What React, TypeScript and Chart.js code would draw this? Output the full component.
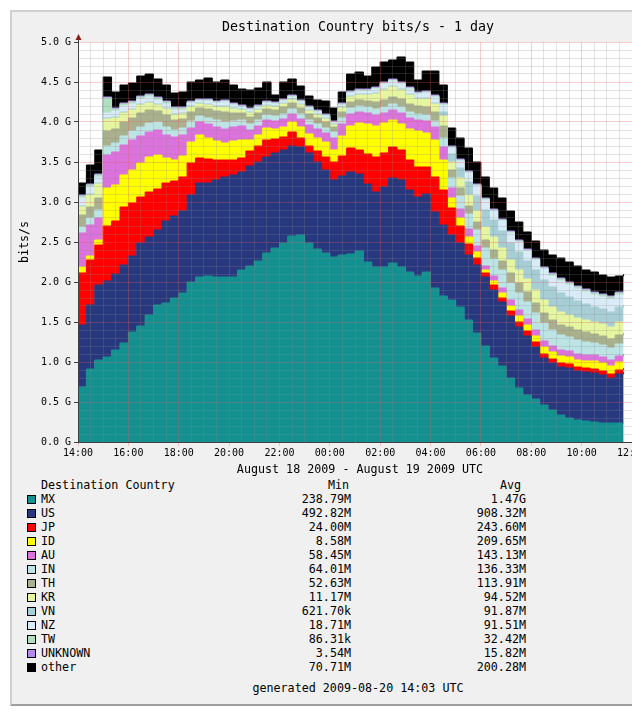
import React, { useEffect, useRef } from "react";
import { Chart, registerables } from "chart.js";

Chart.register(...registerables);

// Minutes after 14:00 (Aug 18) for each sample
const MINUTES = [
  0, 20, 40, 60, 80, 100, 120, 140, 160, 180,
  200, 220, 240, 260, 280, 300, 320, 340, 360, 380,
  400, 420, 440, 460, 480, 500, 520, 540, 560, 580,
  600, 620, 640, 660, 680, 700, 720, 740, 760, 780,
  800, 820, 840, 860, 880, 900, 920, 940, 960, 980,
  1000, 1020, 1040, 1060, 1080, 1100, 1120, 1140, 1160, 1180,
  1200, 1220, 1240, 1260, 1280, 1300,
];

// Values in Mbit/s
const MX = [
  687.5, 912.5, 1025, 1062.5, 1150, 1237.5, 1375, 1450, 1587.5, 1712.5,
  1737.5, 1800, 1862.5, 2000, 2062.5, 2075, 2062.5, 2062.5, 2062.5, 2150,
  2200, 2262.5, 2362.5, 2425, 2487.5, 2575, 2587.5, 2487.5, 2412.5, 2362.5,
  2312.5, 2337.5, 2350, 2387.5, 2250, 2187.5, 2187.5, 2237.5, 2187.5, 2125,
  2075, 2125, 1925, 1825, 1775, 1687.5, 1525, 1362.5, 1200, 1050,
  950, 800, 675, 587.5, 537.5, 462.5, 400, 337.5, 300, 275,
  262.5, 250, 237.5, 237.5, 237.5, 237.5,
];
const US = [
  775, 800, 937.5, 950, 950, 975, 950, 1037.5, 975, 937.5,
  1025, 1025, 1025, 1087.5, 1175, 1162.5, 1212.5, 1250, 1275, 1225,
  1250, 1237.5, 1200, 1187.5, 1162.5, 1125, 1100, 1125, 1087.5, 1037.5,
  962.5, 987.5, 1025, 962.5, 975, 937.5, 1000, 1062.5, 1087.5, 1025,
  987.5, 975, 950, 887.5, 812.5, 800, 812.5, 850, 862.5, 850,
  800, 775, 762.5, 737.5, 650, 587.5, 587.5, 600, 625, 612.5,
  612.5, 612.5, 600, 562.5, 612.5, 637.5,
];
const JP = [
  650, 562.5, 500, 687.5, 662.5, 725, 662.5, 575, 562.5, 512.5,
  475, 437.5, 425, 400, 312.5, 300, 250, 212.5, 187.5, 175,
  187.5, 200, 212.5, 175, 162.5, 175, 112.5, 87.5, 137.5, 162.5,
  225, 250, 300, 300, 375, 437.5, 425, 387.5, 375, 375,
  375, 337.5, 437.5, 437.5, 337.5, 212.5, 137.5, 87.5, 50, 62.5,
  50, 62.5, 62.5, 62.5, 62.5, 50, 50, 50, 50, 50,
  50, 50, 50, 50, 50, 50,
];
const ID = [
  75, 50, 62.5, 475, 450, 400, 412.5, 425, 437.5, 425,
  312.5, 262.5, 262.5, 262.5, 287.5, 262.5, 237.5, 212.5, 237.5, 225,
  137.5, 137.5, 150, 125, 125, 125, 137.5, 150, 162.5, 187.5,
  150, 250, 275, 337.5, 375, 387.5, 375, 337.5, 325, 387.5,
  450, 425, 462.5, 375, 125, 100, 87.5, 75, 37.5, 50,
  62.5, 62.5, 75, 75, 75, 87.5, 87.5, 87.5, 87.5, 87.5,
  87.5, 100, 100, 100, 100, 100,
];
const AU = [
  425, 387.5, 275, 412.5, 412.5, 375, 375, 337.5, 312.5, 312.5,
  287.5, 287.5, 262.5, 175, 162.5, 175, 175, 175, 175, 175,
  125, 112.5, 100, 100, 100, 100, 100, 112.5, 112.5, 112.5,
  150, 150, 150, 137.5, 137.5, 137.5, 125, 125, 137.5, 137.5,
  137.5, 150, 162.5, 162.5, 125, 112.5, 100, 75, 50, 62.5,
  62.5, 75, 75, 75, 75, 75, 75, 75, 75, 75,
  75, 75, 75, 75, 75, 75,
];
const IN = [
  75, 87.5, 100, 112.5, 112.5, 112.5, 112.5, 112.5, 112.5, 100,
  100, 87.5, 87.5, 87.5, 75, 75, 87.5, 87.5, 75, 75,
  75, 75, 62.5, 62.5, 62.5, 62.5, 62.5, 62.5, 62.5, 62.5,
  75, 75, 75, 75, 75, 75, 75, 75, 75, 75,
  75, 75, 75, 112.5, 125, 162.5, 187.5, 200, 225, 212.5,
  225, 212.5, 212.5, 212.5, 212.5, 225, 200, 187.5, 175, 175,
  162.5, 150, 150, 150, 150, 150,
];
const TH = [
  150, 137.5, 150, 187.5, 175, 175, 162.5, 175, 162.5, 137.5,
  150, 125, 112.5, 112.5, 100, 112.5, 112.5, 125, 100, 87.5,
  87.5, 87.5, 75, 75, 87.5, 75, 75, 75, 75, 75,
  62.5, 75, 75, 75, 75, 87.5, 87.5, 87.5, 100, 100,
  100, 100, 112.5, 150, 100, 100, 100, 100, 100, 112.5,
  112.5, 125, 125, 125, 125, 125, 125, 125, 125, 125,
  125, 112.5, 112.5, 112.5, 112.5, 112.5,
];
const KR = [
  100, 150, 175, 150, 137.5, 112.5, 100, 100, 87.5, 75,
  75, 62.5, 62.5, 62.5, 50, 50, 50, 62.5, 50, 37.5,
  50, 37.5, 37.5, 37.5, 37.5, 37.5, 37.5, 37.5, 37.5, 37.5,
  25, 50, 62.5, 62.5, 75, 100, 125, 125, 112.5, 112.5,
  87.5, 100, 100, 125, 100, 125, 137.5, 137.5, 162.5, 162.5,
  162.5, 162.5, 162.5, 162.5, 162.5, 162.5, 162.5, 162.5, 150, 150,
  150, 150, 150, 150, 162.5, 162.5,
];
const VN = [
  12.5, 12.5, 12.5, 12.5, 12.5, 12.5, 12.5, 12.5, 12.5, 12.5,
  12.5, 12.5, 12.5, 12.5, 12.5, 12.5, 12.5, 12.5, 12.5, 12.5,
  12.5, 12.5, 12.5, 12.5, 12.5, 12.5, 12.5, 12.5, 12.5, 12.5,
  12.5, 12.5, 12.5, 12.5, 12.5, 12.5, 12.5, 12.5, 12.5, 12.5,
  12.5, 12.5, 12.5, 50, 100, 125, 162.5, 187.5, 212.5, 212.5,
  212.5, 212.5, 225, 225, 250, 250, 250, 237.5, 225, 212.5,
  200, 187.5, 187.5, 187.5, 187.5, 187.5,
];
const NZ = [
  100, 87.5, 75, 62.5, 75, 75, 62.5, 62.5, 62.5, 50,
  50, 50, 37.5, 37.5, 25, 37.5, 37.5, 50, 37.5, 25,
  25, 25, 25, 25, 25, 25, 25, 25, 25, 25,
  12.5, 25, 37.5, 37.5, 37.5, 50, 62.5, 62.5, 62.5, 62.5,
  50, 62.5, 75, 87.5, 75, 87.5, 112.5, 125, 125, 112.5,
  125, 125, 125, 125, 125, 137.5, 137.5, 150, 150, 150,
  150, 150, 150, 162.5, 150, 150,
];
const TW = [
  25, 25, 25, 187.5, 25, 25, 25, 25, 25, 25,
  25, 25, 25, 12.5, 12.5, 12.5, 12.5, 12.5, 12.5, 12.5,
  12.5, 12.5, 12.5, 12.5, 12.5, 12.5, 12.5, 12.5, 12.5, 12.5,
  12.5, 12.5, 12.5, 12.5, 12.5, 12.5, 12.5, 12.5, 12.5, 12.5,
  12.5, 12.5, 12.5, 12.5, 12.5, 12.5, 12.5, 12.5, 12.5, 12.5,
  12.5, 12.5, 12.5, 12.5, 12.5, 12.5, 25, 25, 25, 25,
  25, 25, 25, 25, 25, 25,
];
const UNKNOWN = [
  12.5, 12.5, 12.5, 12.5, 12.5, 12.5, 12.5, 12.5, 12.5, 12.5,
  12.5, 12.5, 12.5, 12.5, 12.5, 12.5, 12.5, 12.5, 12.5, 12.5,
  12.5, 12.5, 12.5, 12.5, 12.5, 12.5, 12.5, 12.5, 12.5, 12.5,
  12.5, 12.5, 12.5, 12.5, 12.5, 12.5, 12.5, 12.5, 12.5, 12.5,
  12.5, 12.5, 12.5, 12.5, 12.5, 12.5, 12.5, 12.5, 12.5, 12.5,
  12.5, 12.5, 12.5, 12.5, 12.5, 12.5, 12.5, 12.5, 12.5, 12.5,
  12.5, 12.5, 12.5, 12.5, 12.5, 12.5,
];
const OTHER = [
  150, 237.5, 300, 250, 200, 225, 225, 250, 250, 225,
  200, 175, 187.5, 237.5, 237.5, 262.5, 237.5, 250, 225, 200,
  225, 212.5, 237.5, 87.5, 212.5, 200, 175, 125, 125, 162.5,
  162.5, 137.5, 212.5, 212.5, 162.5, 250, 250, 237.5, 312.5, 312.5,
  150, 250, 300, 225, 225, 262.5, 287.5, 275, 262.5, 262.5,
  262.5, 250, 225, 212.5, 212.5, 212.5, 225, 250, 250, 250,
  237.5, 250, 237.5, 237.5, 200, 200,
];

const SERIES_NAMES = ["MX", "US", "JP", "ID", "AU", "IN", "TH", "KR", "VN", "NZ", "TW", "UNKNOWN", "other"];
const SERIES_COLORS = [
  "#139090", "#28387F", "#FF0000", "#FFFF00", "#DC72DC", "#BCE4E4", "#A9B08E",
  "#E6F5A0", "#A6CED4", "#D8EBF7", "#B0E0C0", "#B38BEF", "#000000",
];
const MIN_LABELS = ["238.79M", "492.82M", "24.00M", "8.58M", "58.45M", "64.01M", "52.63M", "11.17M", "621.70k", "18.71M", "86.31k", "3.54M", "70.71M"];
const AVG_LABELS = ["1.47G", "908.32M", "243.60M", "209.65M", "143.13M", "136.33M", "113.91M", "94.52M", "91.87M", "91.51M", "32.42M", "15.82M", "200.28M"];

const TITLE = "Destination Country bits/s - 1 day";
const X_CAPTION = "August 18 2009 - August 19 2009 UTC";
const LEGEND_HEAD = ["Destination Country", "Min", "Avg"];
const GENERATED = "generated 2009-08-20 14:03 UTC";
const Y_TITLE = "bits/s";

const X_MAX = 1320; // 12:00 next day
const Y_MAX = 5000;

const FONT = "'DejaVu Sans Mono', monospace";
const MINOR_GRID = "rgba(140,140,140,0.24)";
const MAJOR_GRID = "rgba(230,90,90,0.30)";

const plotDecor = {
  id: "plotDecor",
  beforeDraw(chart: any) {
    const { ctx, chartArea } = chart;
    ctx.save();
    ctx.fillStyle = "#ffffff";
    ctx.fillRect(chartArea.left, chartArea.top, chartArea.right - chartArea.left, chartArea.bottom - chartArea.top);
    ctx.restore();
  },
  afterDraw(chart: any) {
    const { ctx, chartArea } = chart;
    const x = chartArea.left + 0.5;
    ctx.save();
    ctx.strokeStyle = "#404040";
    ctx.lineWidth = 1;
    ctx.beginPath();
    ctx.moveTo(x, chartArea.top);
    ctx.lineTo(x, chartArea.top - 4);
    ctx.stroke();
    ctx.fillStyle = "#8a1c1c";
    ctx.beginPath();
    ctx.moveTo(x, chartArea.top - 8);
    ctx.lineTo(x - 3, chartArea.top - 2);
    ctx.lineTo(x + 3, chartArea.top - 2);
    ctx.closePath();
    ctx.fill();
    ctx.restore();
  },
};

export default function App() {
  const canvasRef = useRef<HTMLCanvasElement | null>(null);

  useEffect(() => {
    const SERIES = [MX, US, JP, ID, AU, IN, TH, KR, VN, NZ, TW, UNKNOWN, OTHER];
    const chart = new Chart(canvasRef.current as HTMLCanvasElement, {
      type: "line",
      data: {
        datasets: SERIES.map((vals, i) => ({
          label: SERIES_NAMES[i],
          data: vals.map((v, k) => ({ x: MINUTES[k], y: v })),
          backgroundColor: SERIES_COLORS[i],
          borderColor: SERIES_COLORS[i],
          borderWidth: 1,
          pointRadius: 0,
          pointHoverRadius: 0,
          fill: i === 0 ? "origin" : "-1",
          stepped: true,
        })),
      },
      options: {
        animation: false,
        responsive: false,
        maintainAspectRatio: false,
        devicePixelRatio: 1,
        events: [],
        layout: { padding: { left: 0, top: 42, right: 88, bottom: 8 } },
        plugins: {
          legend: { display: false },
          tooltip: { enabled: false },
          title: { display: false },
        },
        scales: {
          x: {
            type: "linear",
            min: 0,
            max: X_MAX,
            afterFit: (s: any) => {
              s.height = 20;
            },
            ticks: {
              stepSize: 30,
              autoSkip: false,
              maxRotation: 0,
              minRotation: 0,
              padding: 1,
              color: "#000",
              font: { family: FONT, size: 10 },
              callback: (v: any) => {
                const n = Number(v);
                if (n % 120 !== 0) return "";
                const h = (14 + n / 60) % 24;
                return String(h).padStart(2, "0") + ":00";
              },
            },
            grid: {
              z: 1,
              lineWidth: 1,
              tickLength: 4,
              color: (c: any) => (c.tick && Math.round(c.tick.value) % 120 === 0 ? MAJOR_GRID : MINOR_GRID),
              tickColor: (c: any) => (c.tick && Math.round(c.tick.value) % 120 === 0 ? MAJOR_GRID : "rgba(0,0,0,0)"),
            },
            border: { display: true, color: "#404040", width: 1, z: 2 },
          },
          y: {
            type: "linear",
            stacked: true,
            min: 0,
            max: Y_MAX,
            afterFit: (s: any) => {
              s.width = 78;
            },
            ticks: {
              stepSize: 100,
              autoSkip: false,
              padding: 3,
              color: "#000",
              font: { family: FONT, size: 10 },
              callback: (v: any) => {
                const n = Math.round(Number(v));
                return n % 500 === 0 ? (n / 1000).toFixed(1) + " G" : "";
              },
            },
            title: {
              display: true,
              text: Y_TITLE,
              color: "#000",
              font: { family: FONT, size: 11.7 },
              padding: { top: 18, bottom: 0 },
            },
            grid: {
              z: 1,
              lineWidth: 1,
              tickLength: 4,
              color: (c: any) => (c.tick && Math.round(c.tick.value) % 500 === 0 ? MAJOR_GRID : MINOR_GRID),
              tickColor: (c: any) => (c.tick && Math.round(c.tick.value) % 500 === 0 ? "#404040" : "rgba(0,0,0,0)"),
            },
            border: { display: true, color: "#404040", width: 1, z: 2 },
          },
        },
      } as any,
      plugins: [plotDecor],
    });
    return () => chart.destroy();
  }, []);

  const text: React.CSSProperties = {
    position: "absolute",
    fontFamily: FONT,
    fontSize: "11.7px",
    lineHeight: "14px",
    whiteSpace: "pre",
    color: "#000",
  };

  return (
    <div
      style={{
        position: "fixed",
        left: 0,
        top: 0,
        width: 632,
        height: 715,
        overflow: "hidden",
        background: "#ffffff",
      }}
    >
      <div
        style={{
          position: "absolute",
          left: 10,
          top: 10,
          width: 720,
          height: 692,
          background: "#f0f0f0",
          borderLeft: "2px solid #cfcfcf",
          borderTop: "2px solid #cfcfcf",
          borderBottom: "2px solid #9e9e9e",
        }}
      />
      <canvas
        ref={canvasRef}
        width={720}
        height={470}
        style={{ position: "absolute", left: 0, top: 0, width: 720, height: 470 }}
      />
      <div style={{ ...text, left: 0, width: 716, textAlign: "center", top: 18, fontSize: "13.3px", lineHeight: "18px" }}>
        {TITLE}
      </div>
      <div style={{ ...text, left: 0, width: 720, textAlign: "center", top: 462, lineHeight: "14px" }}>
        {X_CAPTION}
      </div>
      <div style={{ ...text, left: 41, top: 478 }}>{LEGEND_HEAD[0]}</div>
      <div style={{ ...text, left: 249, width: 100, textAlign: "right", top: 478 }}>{LEGEND_HEAD[1]}</div>
      <div style={{ ...text, left: 421, width: 100, textAlign: "right", top: 478 }}>{LEGEND_HEAD[2]}</div>
      {SERIES_NAMES.map((name, i) => {
        const cy = 499 + 14 * i;
        return (
          <React.Fragment key={name}>
            <div
              style={{
                position: "absolute",
                left: 27,
                top: cy - 4,
                width: 7,
                height: 7,
                background: SERIES_COLORS[i],
                border: "1px solid #000",
              }}
            />
            <div style={{ ...text, left: 41, top: cy - 7 }}>{name}</div>
            <div style={{ ...text, left: 251, width: 100, textAlign: "right", top: cy - 7 }}>{MIN_LABELS[i]}</div>
            <div style={{ ...text, left: 426, width: 100, textAlign: "right", top: cy - 7 }}>{AVG_LABELS[i]}</div>
          </React.Fragment>
        );
      })}
      <div style={{ ...text, left: 0, width: 716, textAlign: "center", top: 681 }}>{GENERATED}</div>
    </div>
  );
}
